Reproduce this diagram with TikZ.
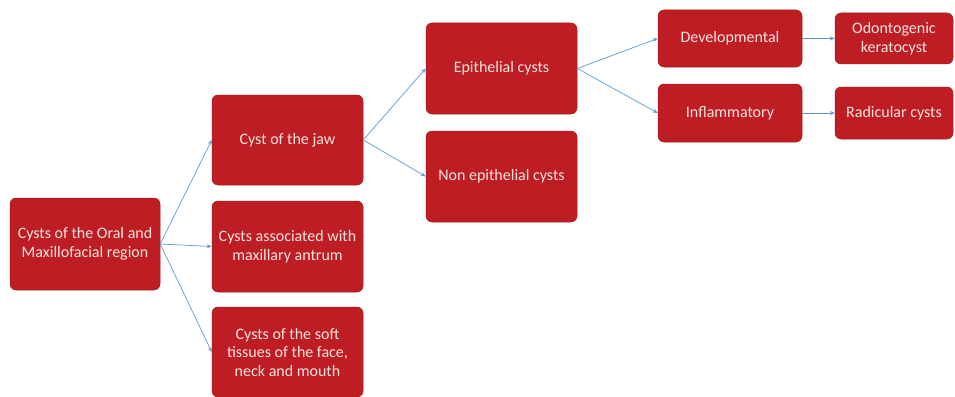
\documentclass[tikz,border=0pt]{standalone}
\usepackage{fontspec}
\setmainfont{Carlito}
\usetikzlibrary{arrows.meta}
\definecolor{boxred}{HTML}{BE1E23}
\definecolor{boxtext}{HTML}{F6E3DF}
\definecolor{linkblue}{HTML}{5B9BD5}
\tikzset{
  cystbox/.style={draw=boxred!85!black, line width=0.5pt, fill=boxred, rounded corners=6pt,
    text=boxtext, align=center, font=\fontsize{16}{18.5}\selectfont, inner sep=0pt},
  link/.style={draw=linkblue, line width=0.7pt, -{Stealth[length=5pt,width=4pt]}}
}
\newcommand{\cbox}[6]{% name, x1, y1, x2, y2, text
  \node[cystbox, minimum width={#4-#2}, minimum height={#5-#3}] (#1) at ({(#2+#4)/2},{(#3+#5)/2}) {#6};}
\begin{document}
\begin{tikzpicture}[x=1pt,y=-1pt]
\useasboundingbox (0,0) rectangle (955,396);
\cbox{root}{10}{198}{160}{290}{Cysts of the Oral and\\Maxillofacial region}
\cbox{jaw}{212}{95}{363}{185}{Cyst of the jaw}
\cbox{antrum}{212}{201}{363}{292}{Cysts associated with\\maxillary antrum}
\cbox{soft}{212}{307}{363}{397}{Cysts of the soft\\tissues of the face,\\neck and mouth}
\cbox{epi}{426}{23}{577}{114}{Epithelial cysts}
\cbox{nonepi}{426}{131}{577}{222}{Non epithelial cysts}
\cbox{dev}{658}{10}{802}{67}{Developmental}
\cbox{infl}{658}{84}{802}{142}{Inflammatory}
\cbox{odon}{835}{13}{953}{64}{Odontogenic\\keratocyst}
\cbox{rad}{835}{87}{953}{139}{Radicular cysts}

\draw[link] (root.east) -- (jaw.west);
\draw[link] (root.east) -- (antrum.west);
\draw[link] (root.east) -- (soft.west);
\draw[link] (jaw.east) -- (epi.west);
\draw[link] (jaw.east) -- (nonepi.west);
\draw[link] (epi.east) -- (dev.west);
\draw[link] (epi.east) -- (infl.west);
\draw[link] (dev.east) -- (odon.west);
\draw[link] (infl.east) -- (rad.west);
\end{tikzpicture}
\end{document}
